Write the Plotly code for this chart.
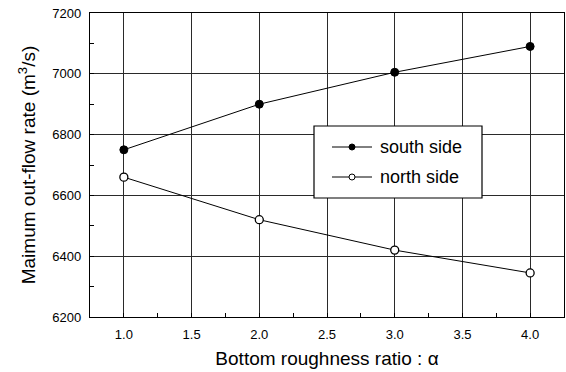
import plotly.graph_objects as go

# Bottom roughness ratio and the maximum out-flow rate on each side
alpha = [1.0, 2.0, 3.0, 4.0]
south_side = [6750, 6900, 7005, 7090]
north_side = [6660, 6520, 6420, 6345]
series_names = ["south side", "north side"]

x_ticks = [1.0, 1.5, 2.0, 2.5, 3.0, 3.5, 4.0]
x_tick_text = ["1.0", "1.5", "2.0", "2.5", "3.0", "3.5", "4.0"]
y_ticks = [6200, 6400, 6600, 6800, 7000, 7200]

font_family = "Liberation Sans, Arial, sans-serif"

W, H = 566, 372
M = dict(l=90, r=2, t=13, b=55)
plot_w = W - M["l"] - M["r"]
plot_h = H - M["t"] - M["b"]


def px(x):
    """Pixel column -> paper x fraction."""
    return (x - M["l"]) / plot_w


def py(y):
    """Pixel row -> paper y fraction."""
    return (H - M["b"] - y) / plot_h


fig = go.Figure()
fig.add_trace(go.Scatter(
    x=alpha, y=south_side, name=series_names[0], mode="lines+markers",
    line=dict(color="black", width=1),
    marker=dict(symbol="circle", size=8, color="black",
                line=dict(color="black", width=1)),
))
fig.add_trace(go.Scatter(
    x=alpha, y=north_side, name=series_names[1], mode="lines+markers",
    line=dict(color="black", width=1),
    marker=dict(symbol="circle", size=8, color="white",
                line=dict(color="black", width=1.3)),
))

axis_common = dict(
    showline=True, linecolor="black", linewidth=1.3, mirror=True,
    showgrid=True, gridcolor="#2a2a2a", gridwidth=1,
    ticks="inside", ticklen=4, tickcolor="black",
    tickfont=dict(family=font_family, size=13, color="black"),
    ticklabelstandoff=5,
    zeroline=False,
)

fig.update_xaxes(
    **axis_common,
    range=[0.75, 4.25], tickvals=x_ticks, ticktext=x_tick_text,
    minor=dict(ticks="inside", ticklen=4, dtick=0.25, tick0=0.75,
               tickcolor="black", showgrid=False),
    title=dict(text="Bottom roughness ratio : α", standoff=10,
               font=dict(family=font_family, size=19, color="black")),
)
fig.update_yaxes(
    **axis_common,
    range=[6200, 7200], tickvals=y_ticks,
    minor=dict(ticks="inside", ticklen=4, dtick=100, tick0=6200,
               tickcolor="black", showgrid=False),
    title=dict(text="Maimum out-flow rate (m<sup>3</sup>/s)", standoff=11,
               font=dict(family=font_family, size=19, color="black")),
)

# Legend box drawn with shapes and annotations
shapes = [dict(type="rect", xref="paper", yref="paper",
               x0=px(314), x1=px(482), y0=py(198), y1=py(126),
               line=dict(color="black", width=1.2), fillcolor="white",
               layer="above")]
annotations = []
rows = [(147, "black"), (177, "white")]
for (row_y, fill), name in zip(rows, series_names):
    shapes.append(dict(type="line", xref="paper", yref="paper",
                       x0=px(332), x1=px(372), y0=py(row_y), y1=py(row_y),
                       line=dict(color="black", width=1), layer="above"))
    shapes.append(dict(type="circle", xref="paper", yref="paper",
                       x0=px(349), x1=px(355), y0=py(row_y + 3), y1=py(row_y - 3),
                       line=dict(color="black", width=1), fillcolor=fill,
                       layer="above"))
    annotations.append(dict(xref="paper", yref="paper", x=px(378), y=py(row_y),
                            xanchor="left", yanchor="middle", showarrow=False,
                            text=name,
                            font=dict(family=font_family, size=18, color="black")))

fig.update_layout(
    width=W, height=H,
    margin=M,
    paper_bgcolor="white", plot_bgcolor="white",
    font=dict(family=font_family, color="black"),
    showlegend=False,
    shapes=shapes,
    annotations=annotations,
)

fig.write_html("out.html")
